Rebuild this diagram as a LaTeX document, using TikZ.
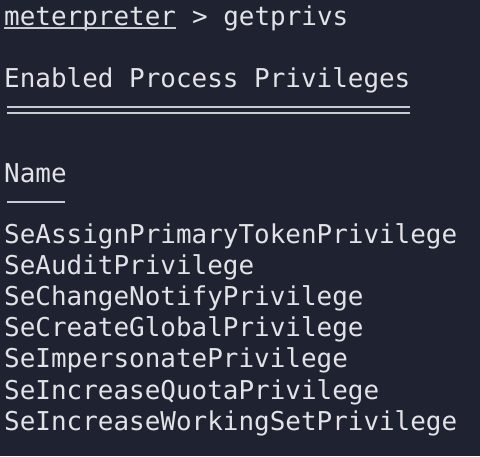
\documentclass[tikz,border=0pt]{standalone}
\usepackage{fontspec}
\usepackage{xcolor}
\usetikzlibrary{positioning}
\newfontfamily\termfont{DejaVu Sans Mono}
\definecolor{termbg}{HTML}{1F2230}
\definecolor{termfg}{HTML}{E2E3E6}
\definecolor{termrule}{HTML}{C9CBD2}

\begin{document}
\begin{tikzpicture}[x=1pt,y=1pt,
		termtext/.style={anchor=base west,inner sep=0pt,text=termfg,
			font=\termfont\fontsize{25.95}{31}\selectfont},
		termline/.style={draw=termrule,line width=2pt}]
		\def \rowTop {243};
		\def \rowGap {31.2};
		\fill[termbg] (0,0) rectangle (480,-456);
		\useasboundingbox (0,0) rectangle (480,-456);
		% prompt line
		\node[termtext] (prompt) at (4,-25) {meterpreter};
		\node[termtext] (cmd) at (prompt.base east) {\mbox{} > getprivs};
		\draw[termline] ([yshift=-2.5pt]prompt.base west) -- ([yshift=-2.5pt]prompt.base east);
		% table title
		\node[termtext] (title) at (4,-87) {Enabled Process Privileges};
		\draw[termline] ([shift={(3pt,-20pt)}]title.base west) -- ([shift={(-1pt,-20pt)}]title.base east);
		\draw[termline] ([shift={(3pt,-25.5pt)}]title.base west) -- ([shift={(-1pt,-25.5pt)}]title.base east);
		% column head
		\node[termtext] (name) at (4,-182) {Name};
		\draw[termline] ([shift={(3pt,-20pt)}]name.base west) -- ([shift={(-2pt,-20pt)}]name.base east);
		\foreach \priv [count=\i from 0] in {SeAssignPrimaryTokenPrivilege,SeAuditPrivilege,SeChangeNotifyPrivilege,SeCreateGlobalPrivilege,SeImpersonatePrivilege,SeIncreaseQuotaPrivilege,SeIncreaseWorkingSetPrivilege}
		{
			\node[termtext] (priv\i) at (4,-\rowTop-\i*\rowGap) {\priv};
		}
	\end{tikzpicture}
\end{document}
